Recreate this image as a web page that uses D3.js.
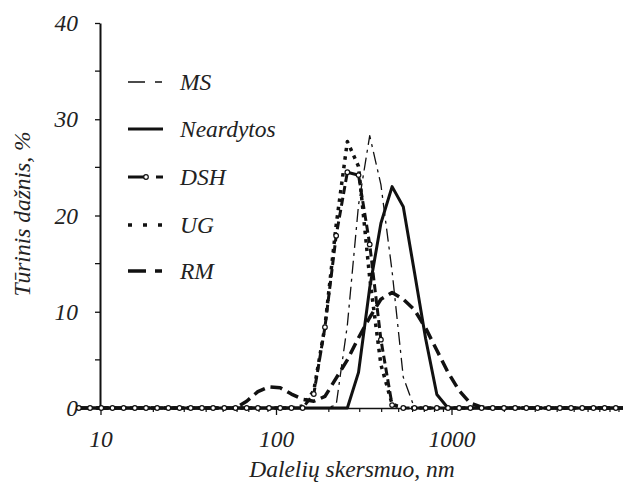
<!DOCTYPE html>
<html>
<head>
<meta charset="utf-8">
<script src="https://cdn.jsdelivr.net/npm/d3@7"></script>
<style>
  html, body { margin: 0; padding: 0; background: #fff; }
  svg { display: block; }
  text { font-family: "Liberation Serif", "Times New Roman", serif; font-style: italic; fill: #222; }
</style>
</head>
<body>
<svg id="chart" width="623" height="485"></svg>
<script>
// Particle size classes, nm
const sizes = [7.531, 8.721, 10.10, 11.70, 13.54, 15.69, 18.17, 21.04, 24.36, 28.21,
  32.67, 37.84, 43.82, 50.75, 58.77, 68.06, 78.82, 91.28, 105.7, 122.4,
  141.8, 164.2, 190.1, 220.2, 255.0, 295.3, 342.0, 396.1, 458.7, 531.2,
  615.1, 712.4, 825.0, 955.4, 1106, 1281, 1484, 1718, 1990, 2305,
  2669, 3091, 3580, 4145, 4801, 5560, 6439, 7456, 8635, 10000];

// Volume frequency, % per size class
const valuesMS = [0, 0, 0, 0, 0, 0, 0, 0, 0, 0,
  0, 0, 0, 0, 0, 0, 0, 0, 0, 0,
  0, 0, 0, 0.3, 8.6, 21.1, 28.3, 23.2, 14.2, 3.2,
  0, 0, 0, 0, 0, 0, 0, 0, 0, 0,
  0, 0, 0, 0, 0, 0, 0, 0, 0, 0];
const valuesNeardytos = [0, 0, 0, 0, 0, 0, 0, 0, 0, 0,
  0, 0, 0, 0, 0, 0, 0, 0, 0, 0,
  0, 0, 0, 0, 0, 3.7, 12.5, 19.2, 23.0, 20.9,
  14.1, 7.2, 1.4, 0, 0, 0, 0, 0, 0, 0,
  0, 0, 0, 0, 0, 0, 0, 0, 0, 0];
const valuesDSH = [0, 0, 0, 0, 0, 0, 0, 0, 0, 0,
  0, 0, 0, 0, 0, 0, 0, 0, 0, 0,
  0, 1.45, 8.4, 17.9, 24.5, 24.2, 17.0, 7.1, 0.3, 0,
  0, 0, 0, 0, 0, 0, 0, 0, 0, 0,
  0, 0, 0, 0, 0, 0, 0, 0, 0, 0];
const valuesUG = [0, 0, 0, 0, 0, 0, 0, 0, 0, 0,
  0, 0, 0, 0, 0, 0, 0, 0, 0, 0,
  0.2, 1.8, 8.5, 19.0, 27.7, 25.1, 13.5, 4.5, 0.4, 0,
  0, 0, 0, 0, 0, 0, 0, 0, 0, 0,
  0, 0, 0, 0, 0, 0, 0, 0, 0, 0];
const valuesRM = [0, 0, 0, 0, 0, 0, 0, 0, 0, 0,
  0, 0, 0, 0, 0, 0.7, 1.7, 2.2, 2.1, 1.45,
  0.9, 0.7, 1.2, 3.1, 5.0, 7.3, 9.4, 11.3, 12.0, 11.3,
  10.2, 8.3, 6.0, 3.7, 1.8, 0.5, 0.1, 0, 0, 0,
  0, 0, 0, 0, 0, 0, 0, 0, 0, 0];

const seriesNames = ["MS", "Neardytos", "DSH", "UG", "RM"];
const xTickValues = [10, 100, 1000];
const yTickValues = [0, 10, 20, 30, 40];
const yMinorTicks = [5, 15, 25, 35];
const xTitle = "Dalelių skersmuo, nm";
const yTitle = "Tūrinis dažnis, %";

const svg = d3.select("#chart");

const x = d3.scaleLog().domain([10, 10000]).range([100.5, 627]);
const y = d3.scaleLinear().domain([0, 40]).range([408, 23]);

// line styles per series
const styles = {
  MS:        { values: valuesMS,        width: 1.3, dash: "13,5,3,5", legendDash: "17,10,7,20" },
  Neardytos: { values: valuesNeardytos, width: 3,   dash: null,       legendDash: null },
  DSH:       { values: valuesDSH,       width: 3,   dash: "8,4",      legendDash: "17,11,7,20", markers: true },
  UG:        { values: valuesUG,        width: 3.5, dash: "3.5,5",    legendDash: "4,11,4,11,4,20" },
  RM:        { values: valuesRM,        width: 3.5, dash: "12,6",     legendDash: "18,9,7,20" }
};

const line = d3.line()
  .x(d => x(d[0]))
  .y(d => y(d[1]));

// axes
const yAxis = d3.axisLeft(y).tickValues(yTickValues).tickSize(5).tickSizeOuter(0).tickPadding(17)
  .tickFormat(d3.format("d"));
const gy = svg.append("g").attr("transform", "translate(100,0)").call(yAxis);
gy.select(".domain").attr("stroke", "#111").attr("stroke-width", 2);
gy.selectAll(".tick line").attr("stroke", "#111").attr("stroke-width", 1.3);
gy.selectAll(".tick text").attr("font-size", 23.5).attr("font-family", "Liberation Serif")
  .attr("font-style", "italic").attr("fill", "#222");
gy.selectAll(".minor").data(yMinorTicks).enter().append("line")
  .attr("x1", -5).attr("x2", 0)
  .attr("y1", d => y(d)).attr("y2", d => y(d))
  .attr("stroke", "#111").attr("stroke-width", 1.3);

const xAxis = d3.axisBottom(x).tickValues(xTickValues).tickSize(7).tickSizeOuter(0).tickPadding(15)
  .tickFormat(d3.format("d"));
const gx = svg.append("g").attr("transform", "translate(0,408)").call(xAxis);
gx.select(".domain").attr("stroke", "#111").attr("stroke-width", 1.5);
gx.selectAll(".tick line").attr("stroke", "#111").attr("stroke-width", 1.3);
gx.selectAll(".tick text").attr("font-size", 23.5).attr("font-family", "Liberation Serif")
  .attr("font-style", "italic").attr("fill", "#222");
const xMinor = x.ticks().filter(t => !xTickValues.includes(t));
gx.selectAll(".minor").data(xMinor).enter().append("line")
  .attr("x1", d => x(d)).attr("x2", d => x(d))
  .attr("y1", 0).attr("y2", 4)
  .attr("stroke", "#111").attr("stroke-width", 1.2);

// series
const drawOrder = ["RM", "UG", "MS", "Neardytos", "DSH"];
drawOrder.forEach(name => {
  const s = styles[name];
  const pts = sizes.map((d, i) => [d, s.values[i]]);
  svg.append("path")
    .datum(pts)
    .attr("d", line)
    .attr("fill", "none")
    .attr("stroke", "#111")
    .attr("stroke-width", s.width)
    .attr("stroke-linejoin", "round")
    .attr("stroke-dasharray", s.dash);
  if (s.markers) {
    svg.append("g").selectAll("circle").data(pts).enter().append("circle")
      .attr("cx", d => x(d[0])).attr("cy", d => y(d[1])).attr("r", 2.3)
      .attr("fill", "#fff").attr("stroke", "#111").attr("stroke-width", 1.2);
  }
});

// legend
const legendY = [82, 129, 177, 225, 271];
const legend = svg.append("g");
seriesNames.forEach((name, i) => {
  const s = styles[name];
  const ly = legendY[i];
  legend.append("line")
    .attr("x1", 128).attr("x2", 163).attr("y1", ly).attr("y2", ly)
    .attr("stroke", "#111")
    .attr("stroke-width", name === "MS" ? 1.3 : s.width)
    .attr("stroke-dasharray", s.legendDash);
  if (s.markers) {
    legend.append("circle").attr("cx", 146).attr("cy", ly).attr("r", 2.3)
      .attr("fill", "#fff").attr("stroke", "#111").attr("stroke-width", 1.2);
  }
  legend.append("text")
    .attr("x", 180).attr("y", ly + 8)
    .attr("font-size", 23.5)
    .text(name);
});

// axis titles
svg.append("text")
  .attr("x", 352).attr("y", 477)
  .attr("text-anchor", "middle")
  .attr("font-size", 23.5)
  .text(xTitle);
svg.append("text")
  .attr("transform", "translate(30,214) rotate(-90)")
  .attr("text-anchor", "middle")
  .attr("font-size", 23.5)
  .text(yTitle);
</script>
</body>
</html>
